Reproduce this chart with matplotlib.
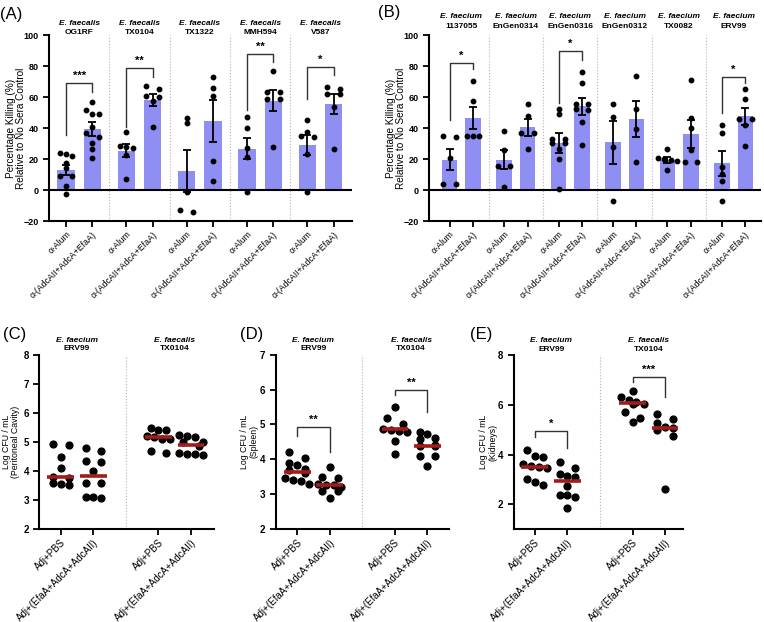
import matplotlib.pyplot as plt
import matplotlib.transforms as mtransforms
import numpy as np

plt.rcParams['font.family'] = ['Liberation Sans', 'DejaVu Sans']

# ---------------- data ----------------
kill_groups = ["α-Alum", "α-(AdcAII+AdcA+EfaA)"]

# (A) E. faecalis strains, % killing
a_strains = ["OG1RF", "TX0104", "TX1322", "MMH594", "V587"]
a_alum_mean = [13.1, 25.6, 12.3, 26.9, 29.0]
a_alum_sem = [3.5, 4.0, 13.6, 6.8, 6.5]
a_vac_mean = [39.8, 58.3, 44.7, 57.8, 55.7]
a_vac_sem = [4.5, 3.8, 13.5, 6.8, 6.3]
a_alum_pts = [
    [24.3, 23.2, 22.2, 17.5, 14.2, 9.2, 9.2, 2.5, -2.6],
    [37.8, 28.6, 28.2, 27.1, 22.8, 7.1],
    [46.7, 43.7, -1.3, -12.9, -13.8],
    [47.1, 40.4, 27.1, 21.7, -1.1],
    [45.4, 37.8, 35.0, 34.2, 23.4, -1.3],
]
a_vac_pts = [
    [57.2, 51.8, 49.2, 49.2, 41.0, 37.2, 34.6, 30.3, 26.7, 20.9],
    [67.3, 65.6, 61.0, 60.5, 57.8, 41.1],
    [72.9, 65.8, 61.0, 18.7, 5.8],
    [77.0, 63.2, 63.2, 58.7, 58.7, 28.0],
    [66.5, 65.6, 62.0, 62.0, 53.5, 26.5],
]
# (group, left end, top, right end, stars)
a_sig = [(0, 35.7, 69.0, 63.7, "***"), (1, 41.0, 78.7, 73.3, "**"),
         (3, 51.8, 88.0, 82.6, "**"), (4, 58.7, 79.8, 74.4, "*")]

# (B) E. faecium strains, % killing
b_strains = ["1137055", "EnGen0314", "EnGen0316", "EnGen0312", "TX0082", "ERV99"]
b_alum_mean = [19.8, 19.8, 30.5, 31.0, 19.8, 17.4]
b_alum_sem = [7.0, 6.0, 6.2, 14.0, 2.0, 7.9]
b_vac_mean = [46.7, 40.6, 54.2, 45.8, 36.3, 47.7]
b_vac_sem = [7.2, 5.3, 5.3, 11.5, 9.2, 5.4]
b_alum_pts = [
    [35.3, 34.4, 21.0, 4.3, 4.3],
    [38.3, 25.8, 15.9, 15.9, 2.2],
    [52.5, 49.5, 33.3, 32.9, 30.5, 30.3, 26.9, 20.4, 0.6],
    [55.9, 47.1, 27.7, -6.7],
    [26.9, 20.9, 20.0, 19.6, 18.9, 13.1],
    [42.4, 37.2, 15.3, 10.5, 6.2, -6.7],
]
b_vac_pts = [
    [70.8, 57.6, 35.0, 35.0, 34.8],
    [55.9, 48.0, 37.2, 36.8, 26.7],
    [76.1, 69.5, 55.9, 55.9, 52.7, 51.6, 44.3, 29.2],
    [73.8, 52.3, 39.8, 18.3],
    [71.2, 46.5, 40.2, 25.8, 18.1, 18.1],
    [65.4, 58.9, 46.2, 46.2, 42.4, 28.8],
]
b_sig = [(0, 45.4, 82.0, 78.0, "*"), (2, 56.6, 90.0, 84.0, "*"),
         (5, 49.7, 73.3, 69.5, "*")]

# (C)-(E) bacterial burden, log CFU/mL
cfu_groups = ["Adj+PBS", "Adj+(EfaA+AdcA+AdcAII)"]
cfu_strains = [("E. faecium", "ERV99"), ("E. faecalis", "TX0104")]

c_pts = [
    [4.94, 4.9, 4.49, 4.1, 3.8, 3.75, 3.57, 3.55, 3.53],
    [4.8, 4.67, 4.34, 4.31, 4.0, 3.57, 3.57, 3.11, 3.09, 3.05],
    [5.46, 5.4, 5.4, 5.2, 5.15, 5.1, 5.1, 4.68, 4.62],
    [5.22, 5.2, 5.16, 5.0, 4.98, 4.85, 4.6, 4.58, 4.57, 4.55],
]
c_center = [3.79, 3.84, 5.18, 4.9]
c_sig = []

d_pts = [
    [4.2, 4.05, 3.9, 3.85, 3.72, 3.68, 3.62, 3.45, 3.4, 3.38, 3.3],
    [3.77, 3.5, 3.45, 3.3, 3.26, 3.25, 3.2, 3.1, 3.08, 2.9],
    [5.5, 5.18, 5.02, 4.88, 4.85, 4.8, 4.78, 4.53, 4.15],
    [4.79, 4.73, 4.62, 4.57, 4.4, 4.38, 4.38, 4.09, 4.09, 3.82],
]
d_center = [3.63, 3.27, 4.86, 4.39]
d_sig = [(0, 4.67, 4.93, 4.22, "**"), (1, 5.84, 6.0, 5.37, "**")]

e_pts = [
    [4.18, 3.95, 3.92, 3.62, 3.55, 3.48, 3.45, 3.0, 2.88, 2.78],
    [3.68, 3.47, 3.22, 3.15, 3.1, 2.72, 2.38, 2.36, 2.3, 1.83],
    [6.58, 6.3, 6.2, 6.1, 6.05, 6.02, 5.7, 5.47, 5.33],
    [5.64, 5.42, 5.26, 5.1, 5.07, 4.98, 4.76, 2.63],
]
e_center = [3.49, 2.95, 6.07, 5.09]
e_sig = [(0, 4.7, 4.95, 4.28, "*"), (1, 6.91, 7.14, 6.31, "***")]

# ---------------- style ----------------
BAR = "#8f8ff3"
RED = "#a31b1b"
SEP = "#b5b5b5"
W, H = 764, 622

fig = plt.figure(figsize=(W / 100, H / 100), dpi=100)


def add_axes(left, top, right, bottom):
    # pixel box -> figure fraction
    return fig.add_axes([left / W, 1 - bottom / H, (right - left) / W, (bottom - top) / H])


def swarm(ax, x0, vals, step_px, d_px):
    # rows of overlapping dots spread sideways, Prism style
    p0 = ax.transData.transform((x0, 0))
    p1 = ax.transData.transform((x0 + 1, 0))
    ux = p1[0] - p0[0]
    vals = sorted(vals, reverse=True)
    ys = [ax.transData.transform((x0, v))[1] for v in vals]
    rows = []
    for v, py in zip(vals, ys):
        if rows and rows[-1][0][1] - py < d_px:
            rows[-1].append((v, py))
        else:
            rows.append([(v, py)])
    xs, out = [], []
    for row in rows:
        n = len(row)
        if n == 1:
            offs = [0]
        elif n == 2:
            offs = [-1, 1]
        else:
            offs = [i - (n - 1) / 2 for i in range(n)]
        for o, (v, py) in zip(offs, row):
            xs.append(x0 + o * step_px / ux)
            out.append(v)
    return xs, out


def style_axes(ax):
    for s in ["top", "right"]:
        ax.spines[s].set_visible(False)
    for s in ["left", "bottom"]:
        ax.spines[s].set_linewidth(1.5)
    ax.tick_params(width=1.3, length=4, direction="out")
    ax.tick_params(axis="x", pad=2)
    for lab in ax.get_yticklabels():
        lab.set_fontweight("bold")


def bracket(ax, x1, x2, yl, yt, yr, stars, span):
    ax.plot([x1, x1, x2, x2], [yl, yt, yt, yr], color="#333333", lw=1.0, zorder=5,
            clip_on=False)
    ax.text((x1 + x2) / 2, yt + span * 0.012, stars, ha="center", va="bottom",
            fontsize=8, fontweight="bold")


def titles(ax, xs, species, strains, y1, y2):
    tr = mtransforms.blended_transform_factory(ax.transData, ax.transAxes)
    for x, sp, st in zip(xs, species, strains):
        ax.text(x, y1, sp, transform=tr, ha="center", va="center", fontsize=6,
                fontweight="bold", style="italic")
        ax.text(x, y2, st, transform=tr, ha="center", va="center", fontsize=6,
                fontweight="bold")


def killing_panel(ax, strains, species, alum_m, alum_s, vac_m, vac_s, alum_p, vac_p,
                  sig, gap, xlim, ty1, ty2, ylab_x):
    n = len(strains)
    xa = np.arange(n) * gap
    xv = xa + 1
    ax.set_xlim(*xlim)
    ax.set_ylim(-20, 100)
    ax.bar(xa, alum_m, width=0.66, color=BAR, zorder=1)
    ax.bar(xv, vac_m, width=0.66, color=BAR, zorder=1)
    ax.errorbar(xa, alum_m, yerr=alum_s, fmt="none", ecolor="black", elinewidth=1.3,
                capsize=3, capthick=1.3, zorder=3)
    ax.errorbar(xv, vac_m, yerr=vac_s, fmt="none", ecolor="black", elinewidth=1.3,
                capsize=3, capthick=1.3, zorder=3)
    ax.axhline(0, color="black", lw=1.5, zorder=2)
    for i in range(n):
        for x0, pts in [(xa[i], alum_p[i]), (xv[i], vac_p[i])]:
            px, py = swarm(ax, x0, pts, 6.3, 4.3)
            ax.plot(px, py, "o", color="black", ms=3.2, zorder=4, clip_on=False)
    for i in range(n - 1):
        ax.axvline((xv[i] + xa[i + 1]) / 2, color=SEP, ls=":", lw=0.8, zorder=0)
    for g, yl, yt, yr, st in sig:
        bracket(ax, xa[g], xv[g], yl, yt, yr, st, 120)
    ax.set_yticks([-20, 0, 20, 40, 60, 80, 100])
    ax.tick_params(axis="y", labelsize=6.5)
    ticks = np.ravel(np.column_stack([xa, xv]))
    ax.set_xticks(ticks)
    ax.set_xticklabels(kill_groups * n, rotation=45, ha="right", rotation_mode="anchor",
                       fontsize=6.3)
    ax.set_ylabel("Percentage Killing (%)\nRelative to No Sera Control", fontsize=7.2,
                  linespacing=1.0)
    ax.yaxis.set_label_coords(ylab_x, 0.5)
    style_axes(ax)
    titles(ax, (xa + xv) / 2, species, strains, ty1, ty2)


def cfu_panel(ax, pts, center, sig, ylim, yticks, ylabel, xlim, ylab_x):
    xs = np.array([0, 1, 3, 4])
    ax.set_xlim(*xlim)
    ax.set_ylim(*ylim)
    for x0, p, c in zip(xs, pts, center):
        px, py = swarm(ax, x0, p, 7.8, 6.5)
        ax.plot(px, py, "o", color="black", ms=4.9, zorder=3)
        ax.plot([x0 - 0.41, x0 + 0.41], [c, c], color=RED, lw=2.6, zorder=4,
                solid_capstyle="butt")
    ax.axvline(2, color=SEP, ls=":", lw=0.8, zorder=0)
    for g, yl, yt, yr, st in sig:
        bracket(ax, xs[2 * g], xs[2 * g + 1], yl, yt, yr, st, ylim[1] - ylim[0])
    ax.set_yticks(yticks)
    ax.tick_params(axis="y", labelsize=7)
    ax.set_xticks(xs)
    ax.set_xticklabels(cfu_groups * 2, rotation=45, ha="right", rotation_mode="anchor",
                       fontsize=7.0)
    ax.set_ylabel(ylabel, fontsize=6.3, linespacing=1.0)
    ax.yaxis.set_label_coords(ylab_x, 0.5)
    style_axes(ax)
    titles(ax, [0.5, 3.5], [s[0] for s in cfu_strains], [s[1] for s in cfu_strains],
           1.084, 1.033)


# (A)
axA = add_axes(49, 35.3, 352, 221.3)
killing_panel(axA, a_strains, ["E. faecalis"] * 5, a_alum_mean, a_alum_sem,
              a_vac_mean, a_vac_sem, a_alum_pts, a_vac_pts, a_sig, 2.3,
              (-0.65, 10.9), 1.065, 1.016, -0.075)

# (B)
axB = add_axes(429, 35.3, 761, 221.3)
killing_panel(axB, b_strains, ["E. faecium"] * 6, b_alum_mean, b_alum_sem,
              b_vac_mean, b_vac_sem, b_alum_pts, b_vac_pts, b_sig, 2.32,
              (-0.88, 13.27), 1.10, 1.05, -0.07)

# (C), (D), (E)
axC = add_axes(39.3, 354.7, 214, 529)
cfu_panel(axC, c_pts, c_center, c_sig, (2, 8), [2, 3, 4, 5, 6, 7, 8],
          "Log CFU / mL\n(Peritoneal Cavity)", (-0.66, 4.71), -0.11)
axD = add_axes(275.7, 354.7, 449.3, 529)
cfu_panel(axD, d_pts, d_center, d_sig, (2, 7), [2, 3, 4, 5, 6, 7],
          "Log CFU / mL\n(Spleen)", (-0.66, 4.67), -0.1)
axE = add_axes(514, 355.3, 682.7, 529)
cfu_panel(axE, e_pts, e_center, e_sig, (1, 8), [2, 4, 6, 8],
          "Log CFU / mL\n(Kidneys)", (-0.64, 4.54), -0.1)

for lab, x, y in [("(A)", 0, 14.5), ("(B)", 378, 12), ("(C)", 3, 334),
                  ("(D)", 240, 334), ("(E)", 470, 335)]:
    fig.text(x / W, 1 - y / H, lab, fontsize=12, va="center", ha="left")

fig.savefig("out.png", dpi=100)
